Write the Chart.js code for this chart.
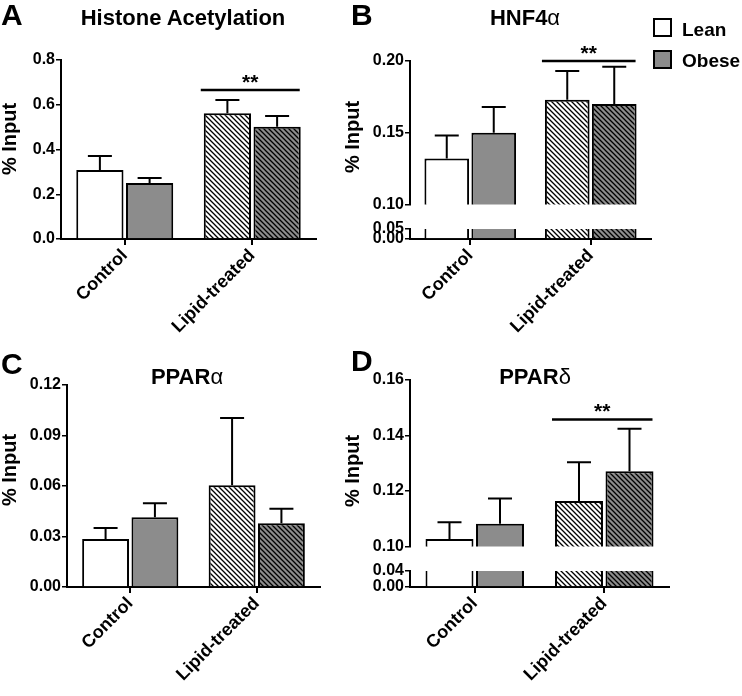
<!DOCTYPE html>
<html><head><meta charset="utf-8">
<script src="https://cdn.jsdelivr.net/npm/chart.js@4.4.1/dist/chart.umd.min.js"></script>
<style>
body{margin:0;background:#fff;width:742px;height:696px;position:relative;overflow:hidden;font-family:'Liberation Sans',Arial,sans-serif;color:#000}
canvas{position:absolute}
.t{position:absolute;white-space:nowrap;font-weight:bold;line-height:1}
.c{transform:translate(-50%,-50%)}
.yt{font-size:20px;transform:translate(-50%,-50%) rotate(-90deg)}
.ttl{font-size:22px}
.let{font-size:30px}
.g{font-weight:normal}
.lg{position:absolute;width:15px;height:15px;border:2.5px solid #000}
.lgt{font-size:19px}
</style></head><body>
<canvas id="cA" width="340" height="348" style="left:0;top:0"></canvas>
<canvas id="cBt" width="402" height="215" style="left:340px;top:0"></canvas>
<canvas id="cBb" width="402" height="135" style="left:340px;top:213px"></canvas>
<canvas id="cC" width="340" height="348" style="left:0;top:348px"></canvas>
<canvas id="cDt" width="402" height="209" style="left:340px;top:348px"></canvas>
<canvas id="cDb" width="402" height="141" style="left:340px;top:555px"></canvas>

<div class="t let" style="left:1px;top:0px">A</div>
<div class="t let" style="left:351px;top:0px">B</div>
<div class="t let" style="left:1px;top:349px">C</div>
<div class="t let" style="left:351px;top:346px">D</div>

<div class="t ttl c" style="left:183px;top:18px">Histone Acetylation</div>
<div class="t ttl c" style="left:525px;top:18px">HNF4<span class="g">α</span></div>
<div class="t ttl c" style="left:187px;top:377px">PPAR<span class="g">α</span></div>
<div class="t ttl c" style="left:535px;top:377px">PPAR<span class="g">δ</span></div>

<div class="t yt" style="left:9px;top:139px">% Input</div>
<div class="t yt" style="left:352px;top:137px">% Input</div>
<div class="t yt" style="left:9px;top:470px">% Input</div>
<div class="t yt" style="left:352px;top:471px">% Input</div>

<div class="lg" style="left:653px;top:18px;background:#fff"></div>
<div class="lg" style="left:653px;top:50px;background:#8c8c8c"></div>
<div class="t lgt" style="left:682px;top:20px">Lean</div>
<div class="t lgt" style="left:682px;top:51px">Obese</div>

<script>
// ---- data ----
const categories = ['Control', 'Lipid-treated'];

// A: Histone Acetylation
const histLean = [0.308, 0.562];
const histLeanErr = [0.063, 0.059];
const histObese = [0.250, 0.502];
const histObeseErr = [0.023, 0.048];
const histTicks = [0, 0.2, 0.4, 0.6, 0.8];
const histSig = 0.666;

// B: HNF4a
const hnfLean = [0.132, 0.173];
const hnfLeanErr = [0.016, 0.020];
const hnfObese = [0.150, 0.170];
const hnfObeseErr = [0.018, 0.026];
const hnfTicksUpper = [0.10, 0.15, 0.20];
const hnfTicksLower = [0.00, 0.05];
const hnfSig = 0.200;

// C: PPARa
const pparaLean = [0.0285, 0.0604];
const pparaLeanErr = [0.0065, 0.0400];
const pparaObese = [0.0414, 0.0378];
const pparaObeseErr = [0.0083, 0.0087];
const pparaTicks = [0, 0.03, 0.06, 0.09, 0.12];

// D: PPARd
const ppardLean = [0.1027, 0.1164];
const ppardLeanErr = [0.0060, 0.0139];
const ppardObese = [0.1082, 0.1271];
const ppardObeseErr = [0.0091, 0.0153];
const ppardTicksUpper = [0.10, 0.12, 0.14, 0.16];
const ppardTicksLower = [0.00, 0.04];
const ppardSig = 0.1458;

// ---- styling ----
const GRAY = '#8c8c8c';
const FONT = "'Liberation Sans', Arial, sans-serif";
Chart.defaults.font.family = FONT;
Chart.defaults.font.weight = 'bold';
Chart.defaults.color = '#000';

function hatch(bg) {
  const s = 5;
  const c = document.createElement('canvas');
  c.width = c.height = s;
  const g = c.getContext('2d');
  g.fillStyle = bg; g.fillRect(0, 0, s, s);
  g.strokeStyle = '#000'; g.lineWidth = 1.3;
  g.beginPath();
  g.moveTo(-1, -1); g.lineTo(s + 1, s + 1);
  g.moveTo(-1, s - 1); g.lineTo(1, s + 1);
  g.moveTo(s - 1, -1); g.lineTo(s + 1, 1);
  g.stroke();
  return g.createPattern(c, 'repeat');
}

function overlay(cfg) {
  return {
    id: 'overlay',
    afterDatasetsDraw(chart) {
      const ctx = chart.ctx, y = chart.scales.y;
      ctx.save();
      ctx.strokeStyle = '#000';
      if (cfg.errs) {
        ctx.lineWidth = 2;
        chart.data.datasets.forEach((ds, i) => {
          const meta = chart.getDatasetMeta(i);
          meta.data.forEach((bar, j) => {
            const top = y.getPixelForValue(ds.data[j] + cfg.errs[i][j]);
            const cap = 24;
            ctx.beginPath();
            ctx.moveTo(bar.x, bar.y); ctx.lineTo(bar.x, top);
            ctx.moveTo(bar.x - cap / 2, top); ctx.lineTo(bar.x + cap / 2, top);
            ctx.stroke();
          });
        });
      }
      if (cfg.sig != null) {
        const b0 = chart.getDatasetMeta(0).data[1];
        const b1 = chart.getDatasetMeta(1).data[1];
        const x1 = b0.x - b0.width / 2 - 3, x2 = b1.x + b1.width / 2 - 1;
        const sy = y.getPixelForValue(cfg.sig);
        ctx.lineWidth = 2.5;
        ctx.beginPath(); ctx.moveTo(x1, sy); ctx.lineTo(x2, sy); ctx.stroke();
        ctx.fillStyle = '#000';
        ctx.font = "bold 21px " + FONT;
        ctx.textAlign = 'center'; ctx.textBaseline = 'alphabetic';
        ctx.fillText('**', (x1 + x2) / 2, sy - 1);
      }
      ctx.restore();
    }
  };
}

function barChart(id, cfg) {
  const common = {
    borderColor: '#000', borderWidth: 2,
    categoryPercentage: 0.78, barPercentage: 0.95,
    clip: cfg.clip
  };
  const showX = cfg.xHeight != null;
  return new Chart(document.getElementById(id), {
    type: 'bar',
    data: {
      labels: categories,
      datasets: [
        Object.assign({ label: 'Lean', data: cfg.lean, backgroundColor: ['#ffffff', hatch('#ffffff')] }, common),
        Object.assign({ label: 'Obese', data: cfg.obese, backgroundColor: [GRAY, hatch(GRAY)] }, common)
      ]
    },
    options: {
      responsive: false, animation: false, devicePixelRatio: 1,
      layout: { padding: cfg.pad },
      plugins: { legend: { display: false }, tooltip: { enabled: false } },
      scales: {
        x: {
          display: showX,
          grid: { offset: false, drawOnChartArea: false, tickLength: 6, color: '#000', lineWidth: 2 },
          border: { color: '#000', width: 2 },
          ticks: { maxRotation: 45, minRotation: 45, padding: 0, autoSkip: false, font: { size: 18, weight: 'bold' }, color: '#000' },
          afterFit: s => { if (showX) s.height = cfg.xHeight; }
        },
        y: {
          min: cfg.ticks[0], max: cfg.ticks[cfg.ticks.length - 1],
          grid: { drawOnChartArea: false, tickLength: 5, color: '#000', lineWidth: 1.5 },
          border: { color: '#000', width: 2 },
          ticks: { padding: 1, autoSkip: false, font: { size: 16, weight: 'bold' }, color: '#000',
                   callback: v => Number(v).toFixed(cfg.dec) },
          afterBuildTicks: s => { s.ticks = cfg.ticks.map(v => ({ value: v })); },
          afterFit: s => { s.width = cfg.yWidth; }
        }
      }
    },
    plugins: [overlay(cfg)]
  });
}

const clipTop = { left: false, right: false, top: false, bottom: 0 };
const clipBottom = { left: false, right: false, top: 0, bottom: false };

// A
barChart('cA', { lean: histLean, obese: histObese, errs: [histLeanErr, histObeseErr], sig: histSig,
  ticks: histTicks, dec: 1, yWidth: 61, xHeight: 109, pad: { left: 0, top: 60, right: 24, bottom: 0 }, clip: false });
// B upper / lower
barChart('cBt', { lean: hnfLean, obese: hnfObese, errs: [hnfLeanErr, hnfObeseErr], sig: hnfSig,
  ticks: hnfTicksUpper, dec: 2, yWidth: 70, xHeight: null, pad: { left: 0, top: 61, right: 91, bottom: 2 }, clip: clipTop });
barChart('cBb', { lean: hnfLean, obese: hnfObese,
  ticks: hnfTicksLower, dec: 2, yWidth: 70, xHeight: 109, pad: { left: 0, top: 16, right: 91, bottom: 0 }, clip: clipBottom });
// C
barChart('cC', { lean: pparaLean, obese: pparaObese, errs: [pparaLeanErr, pparaObeseErr],
  ticks: pparaTicks, dec: 2, yWidth: 67, xHeight: 109, pad: { left: 0, top: 37, right: 20, bottom: 0 }, clip: false });
// D upper / lower
barChart('cDt', { lean: ppardLean, obese: ppardObese, errs: [ppardLeanErr, ppardObeseErr], sig: ppardSig,
  ticks: ppardTicksUpper, dec: 2, yWidth: 70, xHeight: null, pad: { left: 0, top: 32, right: 73, bottom: 2 }, clip: clipTop });
barChart('cDb', { lean: ppardLean, obese: ppardObese,
  ticks: ppardTicksLower, dec: 2, yWidth: 70, xHeight: 109, pad: { left: 0, top: 16, right: 73, bottom: 0 }, clip: clipBottom });
</script>
</body></html>
